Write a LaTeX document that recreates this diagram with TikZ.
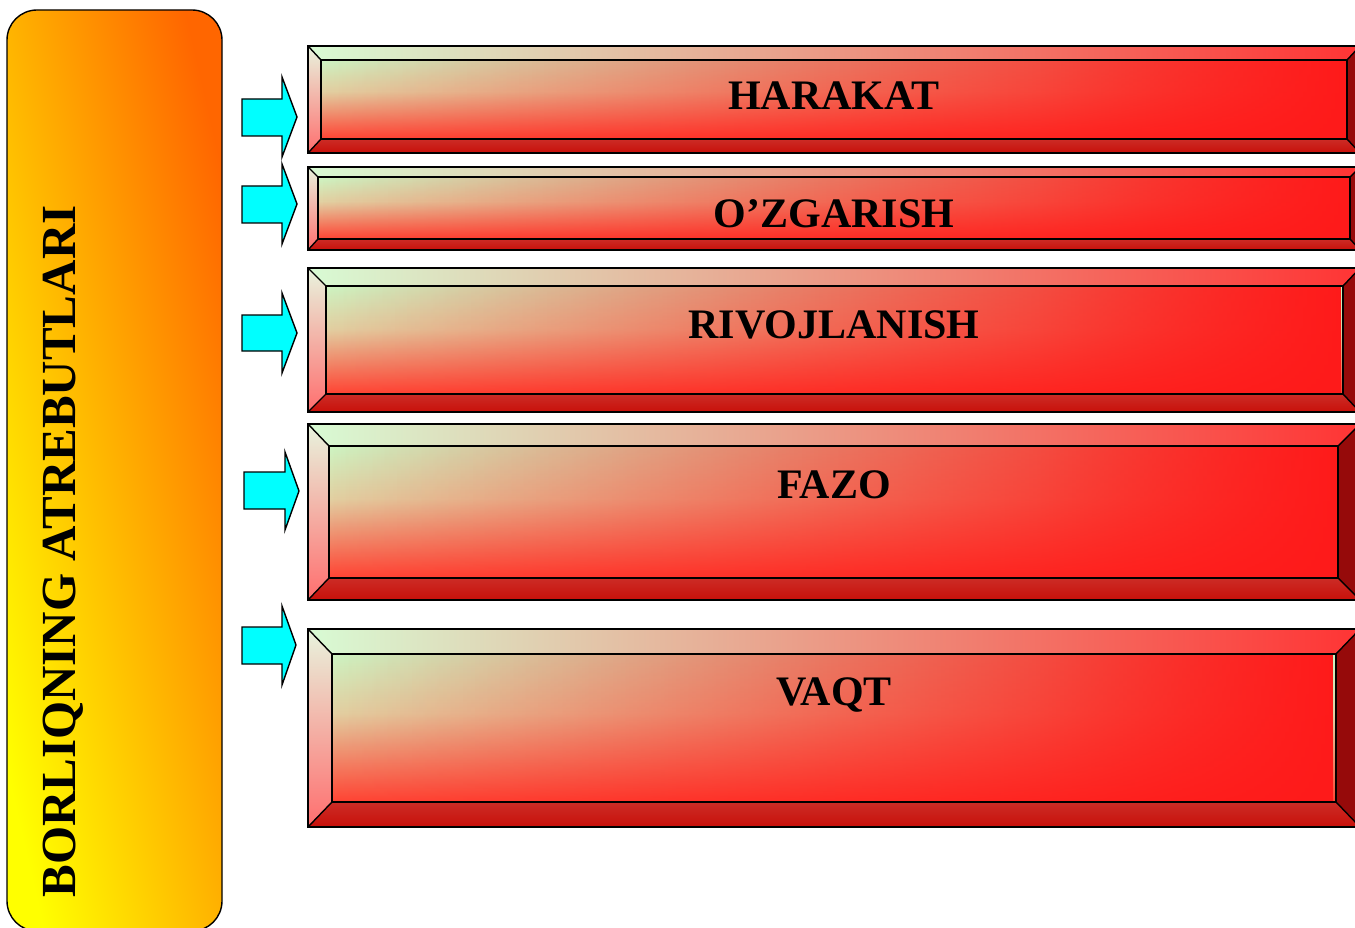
\documentclass[tikz,border=0pt]{standalone}
\usepackage{fontspec}
\setmainfont{Liberation Serif}
\usetikzlibrary{calc,fadings}

\definecolor{titletop}{RGB}{255,102,0}
\definecolor{titlebot}{RGB}{255,255,0}
\definecolor{facetop}{RGB}{205,245,195}
\definecolor{facemid}{RGB}{226,208,162}
\definecolor{facebot}{RGB}{255,68,52}
\definecolor{facered}{RGB}{255,26,26}
\definecolor{bevtopl}{RGB}{216,251,212}
\definecolor{bevtopm}{RGB}{236,196,165}
\definecolor{bevtopr}{RGB}{255,52,52}
\definecolor{bevleftt}{RGB}{232,244,222}
\definecolor{bevleftb}{RGB}{255,110,110}
\definecolor{bevbott}{RGB}{204,44,38}
\definecolor{bevbotb}{RGB}{200,16,10}
\definecolor{bevright}{RGB}{150,10,10}
\definecolor{arrowcyan}{RGB}{0,255,255}

% red coming in from the right of a face (100bp square)
\begin{tikzfadingfrompicture}[name=fadeface, x=1bp, y=1bp]
  \fill[transparent!100] (-50,-50) rectangle (-25,50);
  \shade[left color=transparent!100, right color=transparent!78]
    (-25,-50) rectangle (10,50);
  \shade[left color=transparent!78, right color=transparent!25]
    (10,-50) rectangle (35,50);
  \shade[left color=transparent!25, right color=transparent!0]
    (35,-50) rectangle (50,50);
\end{tikzfadingfrompicture}
% extra red at the far right
\tikzfading[name=faderight,
  left color=transparent!100,
  middle color=transparent!100,
  right color=transparent!0]

\tikzset{
  outline/.style   = {draw=black, line width=1.4pt, line join=miter},
  blockarrow/.style= {draw=black, fill=arrowcyan, line width=1.4pt},
  titlebox/.style  = {left color=titlebot, right color=titletop,
                      shading angle=103},
  boxlabel/.style  = {anchor=base, inner sep=0pt,
                      font=\fontsize{42}{50}\selectfont\bfseries},
  titlelabel/.style= {anchor=base, inner sep=0pt, rotate=90,
                      font=\fontsize{49}{58}\selectfont\bfseries}
}

\begin{document}
\begin{tikzpicture}[x=1pt, y=1pt]
  % y values are pixel rows of the page, counted downwards
  \useasboundingbox (0,-928) rectangle (1355,0);

  % title bar on the left
  \shade[titlebox, rounded corners=30pt] (7,-10) rectangle (222,-931);
  \draw[outline, rounded corners=30pt] (7,-10) rectangle (222,-931);
  \node (title) [titlelabel] at (75,-551.5) {BORLIQNING ATREBUTLARI};

  % bevelled bars
  \foreach \n/\ot/\ob/\il/\it/\ir/\ib/\bl/\txt in {
      harakat/46/153/321/60/1347/139/110/HARAKAT,
      ozgarish/167/250/318/177/1350/239/228/O’ZGARISH,
      rivoj/268/412/326/286/1343/394/338/RIVOJLANISH,
      fazo/424/600/329/446/1338/578/498/FAZO,
      vaqt/629/827/332/654/1336/802/705/VAQT}
  {
    \coordinate (\n-otl) at (308,-\ot);
    \coordinate (\n-otr) at (1360,-\ot);
    \coordinate (\n-obl) at (308,-\ob);
    \coordinate (\n-obr) at (1360,-\ob);
    \coordinate (\n-itl) at (\il,-\it);
    \coordinate (\n-itr) at (\ir,-\it);
    \coordinate (\n-ibl) at (\il,-\ib);
    \coordinate (\n-ibr) at (\ir,-\ib);
    \coordinate (\n-iml) at ($(\n-itl)!0.4!(\n-ibl)$);
    \coordinate (\n-imr) at ($(\n-itr)!0.4!(\n-ibr)$);
    % bevels
    \shade[left color=bevtopl, middle color=bevtopm, right color=bevtopr]
      (\n-otl) -- (\n-otr) -- (\n-itr) -- (\n-itl) -- cycle;
    \shade[top color=bevleftt, bottom color=bevleftb]
      (\n-otl) -- (\n-itl) -- (\n-ibl) -- (\n-obl) -- cycle;
    \shade[top color=bevbott, bottom color=bevbotb]
      (\n-obl) -- (\n-ibl) -- (\n-ibr) -- (\n-obr) -- cycle;
    \fill[bevright]
      (\n-otr) -- (\n-itr) -- (\n-ibr) -- (\n-obr) -- cycle;
    % face
    \shade[top color=facetop, bottom color=facemid]
      (\n-itl) rectangle (\n-imr);
    \shade[top color=facemid, bottom color=facebot]
      (\n-iml) rectangle (\n-ibr);
    \fill[facered, path fading=fadeface] (\n-itl) rectangle (\n-ibr);
    \fill[facered, path fading=faderight] (\n-itl) rectangle (\n-ibr);
    % lines
    \draw[outline] (\n-otl) rectangle (\n-obr);
    \draw[outline] (\n-itl) rectangle (\n-ibr);
    \draw[outline] (\n-otl) -- (\n-itl) (\n-otr) -- (\n-itr)
                   (\n-obl) -- (\n-ibl) (\n-obr) -- (\n-ibr);
    \node (\n-lab) [boxlabel] at (834,-\bl) {\txt};
  }

  % arrows pointing at the bars
  \foreach \n/\xa/\xb/\xt/\st/\sb/\ht/\hb/\ty in {
      harakat/242/282/297/99/136/77/157/117,
      ozgarish/242/282/297/186/223/164/244/204,
      rivoj/242/282/297/315/351/293/373/333,
      fazo/244/285/299/472/509/452/530/491,
      vaqt/242/282/296/627/664/606/685/645}
  {
    \coordinate (\n-tip) at (\xt,-\ty);
    \draw[blockarrow] (\xa,-\st) -- (\xb,-\st) -- (\xb,-\ht) -- (\n-tip)
      -- (\xb,-\hb) -- (\xb,-\sb) -- (\xa,-\sb) -- cycle;
  }
\end{tikzpicture}
\end{document}
